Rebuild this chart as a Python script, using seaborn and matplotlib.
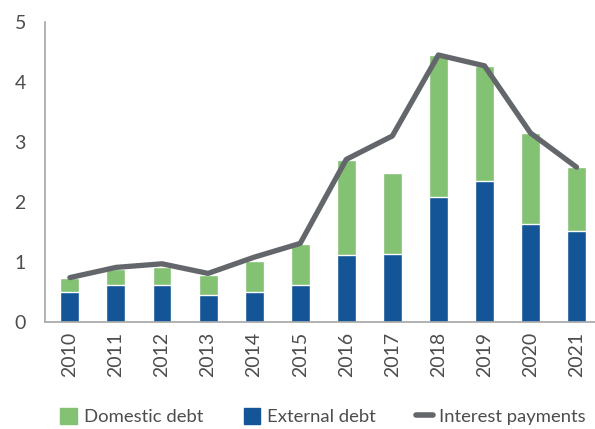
import matplotlib
matplotlib.use("Agg")
import matplotlib.pyplot as plt
import seaborn as sns
import numpy as np
import pandas as pd
from matplotlib.patches import Patch
from matplotlib.lines import Line2D

years = ["2010", "2011", "2012", "2013", "2014", "2015", "2016", "2017", "2018", "2019", "2020", "2021"]
external_debt = [0.50, 0.62, 0.62, 0.45, 0.50, 0.62, 1.12, 1.13, 2.08, 2.35, 1.63, 1.52]
domestic_debt = [0.23, 0.26, 0.30, 0.33, 0.52, 0.68, 1.58, 1.35, 2.37, 1.92, 1.52, 1.06]
interest_payments = [0.74, 0.91, 0.97, 0.81, 1.08, 1.31, 2.71, 3.10, 4.45, 4.27, 3.15, 2.58]

GREEN = "#82C272"
BLUE = "#135596"
GRAY = "#63666A"
TEXT = "#4D4D4D"

sns.set_style("white")
plt.rcParams["font.family"] = ["Lato", "DejaVu Sans"]

total = [e + d for e, d in zip(external_debt, domestic_debt)]
df = pd.DataFrame({"year": years, "external": external_debt, "total": total,
                   "interest": interest_payments, "pos": np.arange(len(years))})

fig = plt.figure(figsize=(5.95, 4.29), dpi=100)
ax = fig.add_axes([45 / 595, 107 / 429, 550 / 595, 300 / 429])

sns.barplot(data=df, x="year", y="total", color=GREEN, width=0.41, ax=ax, saturation=1)
sns.barplot(data=df, x="year", y="external", color=BLUE, width=0.41, ax=ax, saturation=1)
sns.lineplot(data=df, x="pos", y="interest", color=GRAY, lw=3.8, ax=ax, solid_capstyle="round")

ax.set_xlim(-0.54, 11.4)
ax.set_ylim(0, 5)
ax.set_yticks([0, 1, 2, 3, 4, 5])
ax.set_xticks(range(len(years)))
ax.set_xticklabels(years, rotation=90)
ax.set_xlabel("")
ax.set_ylabel("")
ax.tick_params(axis="both", length=0, labelsize=14, colors=TEXT, pad=7)
ax.tick_params(axis="y", pad=22)
for lab in ax.get_yticklabels():
    lab.set_horizontalalignment("left")
for s in ["top", "right"]:
    ax.spines[s].set_visible(False)
for s in ["left", "bottom"]:
    ax.spines[s].set_color("#A6A6A6")
    ax.spines[s].set_linewidth(1.2)

handles = [Patch(color=GREEN), Patch(color=BLUE), Line2D([0], [0], color=GRAY, lw=4, solid_capstyle="round")]
labels = ["Domestic debt", "External debt", "Interest payments"]
fig.legend(handles, labels, loc="lower center", bbox_to_anchor=(0.543, -0.03), ncol=3, frameon=False,
           fontsize=13.3, labelcolor=TEXT, handlelength=0.9, handleheight=0.9, handletextpad=0.35,
           columnspacing=2.2)

fig.savefig("out.png", dpi=100)
